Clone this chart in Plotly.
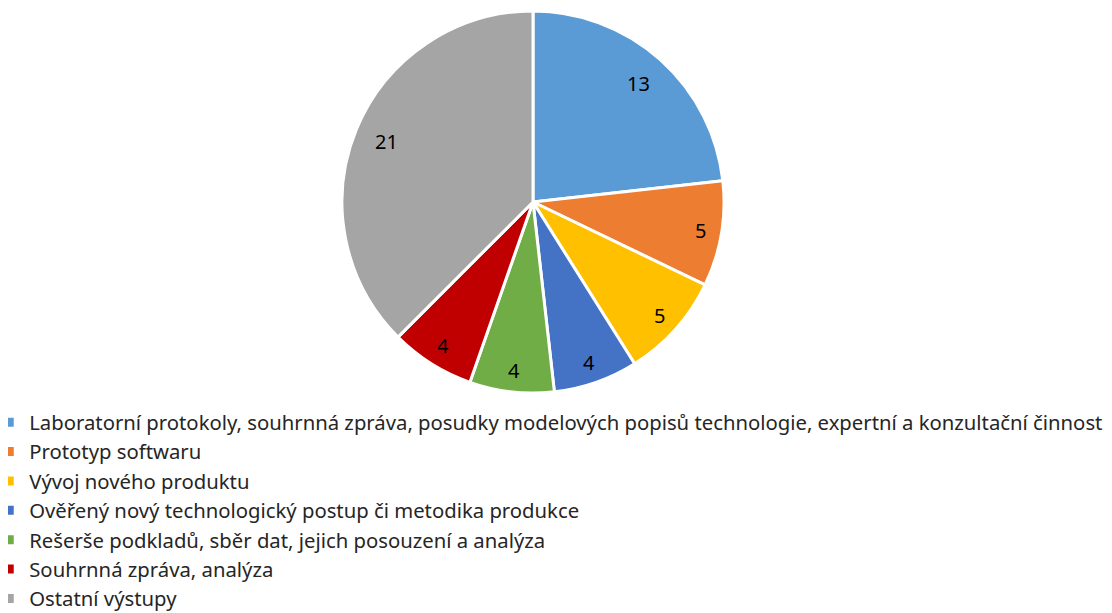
import math
import plotly.graph_objects as go

labels = [
    'Laboratorní protokoly, souhrnná zpráva, posudky modelových popisů technologie, expertní a konzultační činnost',
    'Prototyp softwaru',
    'Vývoj nového produktu',
    'Ověřený nový technologický postup či metodika produkce',
    'Rešerše podkladů, sběr dat, jejich posouzení a analýza',
    'Souhrnná zpráva, analýza',
    'Ostatní výstupy',
]
values = [13, 5, 5, 4, 4, 4, 21]
colors = ['#5B9BD5', '#ED7D31', '#FFC000', '#4472C4', '#70AD47', '#C00000', '#A5A5A5']

# page body keeps its 8px margin, so the figure is a bit smaller than the window
W, H = 1104, 605
dom_x = [0.3025, 0.6486]
dom_y = [0.3636, 0.995]

fig = go.Figure()

fig.add_trace(
    go.Pie(
        labels=labels,
        values=values,
        sort=False,
        direction='clockwise',
        rotation=0,
        marker=dict(colors=colors, line=dict(color='white', width=3)),
        textinfo='none',
        domain=dict(x=dom_x, y=dom_y),
        hoverinfo='label+value',
    )
)

# data labels placed like Excel's best fit (bigger slices sit a bit further in)
cx = sum(dom_x) / 2
cy = sum(dom_y) / 2
radius = min((dom_x[1] - dom_x[0]) * W, (dom_y[1] - dom_y[0]) * H) / 2
total = sum(values)
start = 0
for v in values:
    mid = (start + v / 2) / total * 2 * math.pi
    start += v
    f = 0.83 if v > 10 else 0.89
    fig.add_annotation(
        x=cx + radius * f * math.sin(mid) / W,
        y=cy + radius * f * math.cos(mid) / H,
        xref='paper', yref='paper',
        xanchor='center', yanchor='middle',
        text=str(v), showarrow=False,
        font=dict(size=20, color='#000000'),
    )

fig.update_layout(
    width=W,
    height=H,
    margin=dict(l=0, r=0, t=0, b=0, autoexpand=False),
    paper_bgcolor='white',
    font=dict(family='Noto Sans, Open Sans, sans-serif', color='#262626'),
    showlegend=True,
    legend=dict(
        x=-0.017, y=0.348,
        xanchor='left', yanchor='top',
        orientation='v',
        font=dict(size=20.3, color='#262626'),
        itemwidth=30,
        bgcolor='rgba(0,0,0,0)',
    ),
)

fig.write_html("out.html")
